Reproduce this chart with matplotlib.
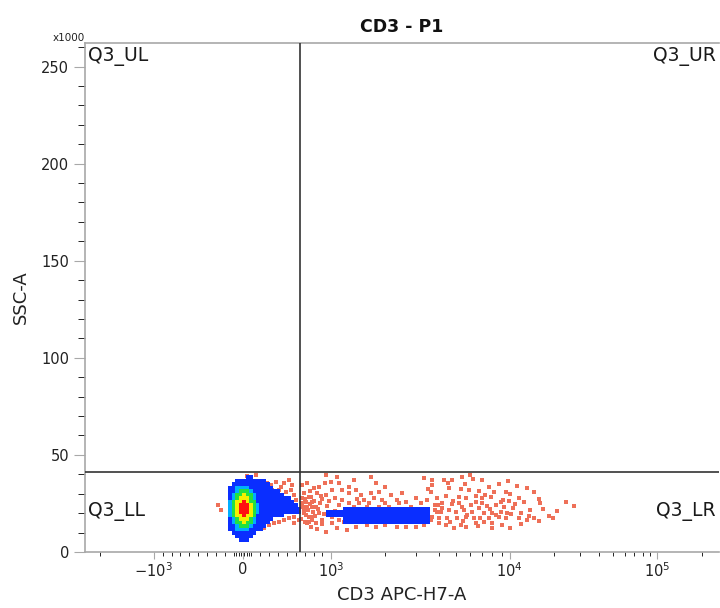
import numpy as np
import matplotlib
matplotlib.use("Agg")
import matplotlib.pyplot as plt
from matplotlib.colors import ListedColormap
from matplotlib.path import Path

# CD3 / SSC events shown as single dots (sparse events)
dot_cd3 = [-280, -240, 45, 157, 281, 326, 382, 438, 472, 528, 562, 337, 416, 494, 551, 584, 438, 607,
           674, 719, 775, 674, 730, 787, 697, 753, 584, 528, 472, 416, 360, 303, 247, 213, 584, 640, 730, 787,
           674, 730, 697, 753, 674, 719, 787, 843, 865, 944, 1000, 1080, 1110, 1010, 944, 831, 865, 787,
           753, 831, 899, 944, 1010, 1110, 1180, 1260, 1340, 1380, 1470, 1530, 1580, 1670, 1670, 1740,
           1850, 1920, 2010, 2170, 2330, 2400, 2500, 2630, 2790, 2980, 3180, 3460, 3630, 3680, 3810, 3900,
           3630, 3300, 2980, 2630, 2330, 2010, 1780, 1580, 1380, 1220, 1080, 1010, 1150, 1260, 1340, 1430,
           1630, 1850, 2110, 2400, 2830, 3100, 3410, 1780, 2010, 1150,
           3680, 4270, 4730, 5400, 6200, 6950, 5600, 8690, 11150, 4560, 5330, 5900, 6720, 8150, 9500,
           10100, 14500, 3900, 4380, 5190, 5700, 6450, 6950, 7830, 8900, 9900, 11500, 15700, 27100, 3950,
           4160, 4730, 5400, 6050, 6950, 7450, 8370, 9250, 10900, 3810, 4110, 4560, 4990, 5550, 6120, 6720,
           7150, 7940, 8900, 9660, 10200, 11900, 13800, 16900, 3680, 4010, 4450, 5060, 5700, 6270, 6850,
           7640, 8690, 9500, 11500, 13000, 14500, 15700, 18400, 19800, 4010, 4380, 4860, 5330, 5700, 6450,
           7150, 7940, 10100,
           690, 710, 740, 760, 790, 810, 820, 850, 870, 900, 920, 950, 980, 700, 760, 800, 880, 930, 660,
           700, 770, 840, 900, 960, 1050, 1050, 1100, 1200, 1250, 1400,
           4200, 4800, 5200, 5800, 6500, 7300, 7800, 8400, 9200, 10500, 12500, 13500, 16000, 21000, 24000,
           4600, 5500, 6600, 8000, 9000, 12000, 3500, 4500, 7700, 9800, 13000, 6000, 3300]
dot_ssc = [24200, 21600, 39100, 39700, 35500, 34500, 36100, 33500, 35500, 37100, 34500, 31900, 31900,
           30900, 31900, 29400, 28300, 26800, 27800, 25800, 28300, 23200, 22700, 23200, 20100, 18000, 18000,
           17500, 16500, 15500, 14900, 13900, 12400, 13900, 14900, 16500, 14900, 16500,
           34500, 35500, 30400, 28300, 25200, 23200, 25800, 30400, 33500, 39700, 36100, 38600, 35500, 31900,
           29400, 23200, 20100, 18000, 15500, 14900, 16500, 10300, 14900, 16500, 15500, 30400, 37100, 31900,
           29400, 26800, 23200, 38600, 30400, 27800, 30900, 26800, 25200, 29400, 26800, 25200, 30400, 25800,
           23200, 27800, 25200, 26800, 30900, 34500, 24200, 20600, 16500, 13900, 12900, 12900, 12900, 13900,
           12900, 13900, 12900, 11300, 12400, 18000, 26800, 25200, 23200, 25200, 25200, 23200, 23200, 21600,
           20600, 20100, 21600, 35500, 33500, 31900,
           37100, 37100, 37100, 38600, 37600, 37100, 35000, 35000, 34000, 33000, 32400, 31900, 31400, 30900,
           30900, 29900, 30900, 27800, 28800, 28300, 27800, 28800, 27800, 28300, 25800, 26300, 27800, 27300,
           23700, 24200, 25200, 24700, 23200, 24200, 25200, 23700, 24200, 23200, 24700, 21600, 20600, 21600,
           20600, 21600, 20600, 22700, 20100, 20100, 20600, 20100, 19600, 20100, 21600, 22100, 18000, 17500,
           17500, 17500, 18000, 17500, 17500, 17500, 18000, 17500, 17500, 16500, 17500, 16000, 18500, 17500,
           14900, 13900, 12400, 13900, 12900, 14900, 15500, 14900, 12400,
           21000, 19000, 21500, 24500, 20500, 26500, 18500, 22000, 25000, 27500, 19500, 23500, 26500, 27500,
           31500, 33000, 29000, 35500, 17000, 15500, 13000, 12000, 14500, 19500, 21000, 28000, 24000, 20000,
           33500, 27500,
           22500, 26500, 25000, 19000, 26000, 29500, 22000, 19000, 27000, 22500, 25500, 18500, 25000, 21000,
           26000, 15500, 16000, 13500, 12500, 14000, 14500, 32500, 35500, 33500, 36500, 33000, 39500, 38000]

# dense CD3- population outline (blue level)
neg_cd3 = [-169, -162, -146, -112, -56, 56, 169, 240, 303, 393, 494, 584, 652, 652, 584, 472, 360, 281,
           213, 135, 80, -34, -100, -146, -165]
neg_ssc = [24000, 30400, 33500, 36100, 38100, 38800, 38600, 37600, 34500, 31900, 29400, 25800, 23200,
           20600, 20100, 19100, 17500, 14900, 11300, 8800, 6000, 5400, 8300, 11300, 16000]
# CD3+ population outline (blue level)
pos_cd3 = [940, 1150, 1150, 3580, 3580, 1150, 1150, 940]
pos_ssc = [22100, 22100, 23300, 23300, 14900, 14900, 17300, 17300]
# inner density levels of CD3- population: cyan, green, yellow, red
core_cd3 = 10
core_ssc = 22400
core_half_cd3 = [165, 132, 95, 58]
core_half_ssc = [12300, 10200, 7400, 4300]

gate_cd3 = 652
gate_ssc = 41200


def fwd(x):
    x = np.asarray(x, dtype=float)
    a = np.abs(x)
    lg = np.interp(np.log10(np.maximum(a, 1000)), [3, 4, 5, 6], [89, 268, 416, 564])
    return np.sign(x) * np.where(a <= 1000, a / 1000 * 89, lg)


def inv(p):
    p = np.asarray(p, dtype=float)
    a = np.abs(p)
    lg = 10 ** np.interp(np.maximum(a, 89), [89, 268, 416, 564], [3, 4, 5, 6])
    return np.sign(p) * np.where(a <= 89, a / 89 * 1000, lg)


fig = plt.figure(figsize=(7.2, 6.08), dpi=100)
ax = fig.add_axes([85 / 720, 56 / 608, 634 / 720, 509 / 608])
ax.set_xscale('function', functions=(fwd, inv))
ax.set_xlim(-2430, 262144)
ax.set_ylim(0, 262144)

# density grid in display units
ypx = 509 / 262144
xe = np.arange(-158, 480, 3.5)
ye = np.arange(0, 262144 + 1900, 1800.0)
xc = (xe[:-1] + xe[1:]) / 2
yc = (ye[:-1] + ye[1:]) / 2
XC, YC = np.meshgrid(xc, yc)
pts = np.column_stack([XC.ravel(), YC.ravel() * ypx])
level = np.zeros(XC.shape)
for px, py in [(neg_cd3, neg_ssc), (pos_cd3, pos_ssc)]:
    path = Path(np.column_stack([fwd(px), np.array(py) * ypx]))
    level[path.contains_points(pts).reshape(XC.shape)] = 1
for i, (hx, hy) in enumerate(zip(core_half_cd3, core_half_ssc)):
    inside = ((XC - fwd(core_cd3)) / fwd(hx)) ** 2 + ((YC - core_ssc) / hy) ** 2 <= 1
    level[inside & (level > 0)] = i + 2

ax.scatter(dot_cd3, dot_ssc, s=6, marker='s', c='#EE7058', linewidths=0, zorder=2)
cmap = ListedColormap(['#0A2EFF', '#00AEFF', '#22E040', '#F4F000', '#FF1010'])
ax.pcolormesh(inv(xe), ye, np.ma.masked_equal(level, 0), cmap=cmap, vmin=0.5, vmax=5.5, zorder=3)

ax.axvline(gate_cd3, color='#333333', lw=1.2, zorder=4)
ax.axhline(gate_ssc, color='#333333', lw=1.2, zorder=4)

ax.set_xticks([-1000, 0, 1000, 1e4, 1e5])
ax.set_xticklabels([r'$-10^3$', '0', r'$10^3$', r'$10^4$', r'$10^5$'])
minor_x = ([-2000] + list(range(-900, 0, 100)) + [-70, -45, -20, 20, 45, 70] + list(range(100, 1000, 100))
           + list(range(2000, 10000, 1000)) + list(range(20000, 100000, 10000)) + [200000])
ax.set_xticks(minor_x, minor=True)
ax.set_yticks(np.arange(0, 250001, 50000))
ax.set_yticklabels(['0', '50', '100', '150', '200', '250'])
ax.set_yticks(np.arange(0, 262144, 10000), minor=True)

for s in ['left', 'bottom', 'top']:
    ax.spines[s].set_color('#A8A8A8')
    ax.spines[s].set_linewidth(1.2)
ax.spines['right'].set_visible(False)
ax.tick_params(axis='both', colors='#A8A8A8', labelcolor='#222222', labelsize=10.5)
ax.tick_params(axis='x', which='major', length=5, pad=2)
ax.tick_params(axis='x', which='minor', length=3)
ax.tick_params(axis='y', which='major', length=8)
ax.tick_params(axis='y', which='minor', length=5)

ax.set_title('CD3 - P1', fontsize=12.5, fontweight='bold', color='#111111', pad=8)
ax.set_xlabel('CD3 APC-H7-A', fontsize=13, color='#222222', labelpad=4)
ax.set_ylabel('SSC-A', fontsize=13, color='#222222', labelpad=8)
ax.text(0, 1.0, 'x1000', transform=ax.transAxes, ha='right', va='bottom', fontsize=7.5, color='#222222')

qkw = dict(transform=ax.transAxes, fontsize=13.5, color='#1A1A1A', va='center')
ax.text(0.004, 0.9725, 'Q3_UL', ha='left', **qkw)
ax.text(0.995, 0.9725, 'Q3_UR', ha='right', **qkw)
ax.text(0.004, 0.079, 'Q3_LL', ha='left', **qkw)
ax.text(0.995, 0.079, 'Q3_LR', ha='right', **qkw)

fig.savefig('out.png', dpi=100)
